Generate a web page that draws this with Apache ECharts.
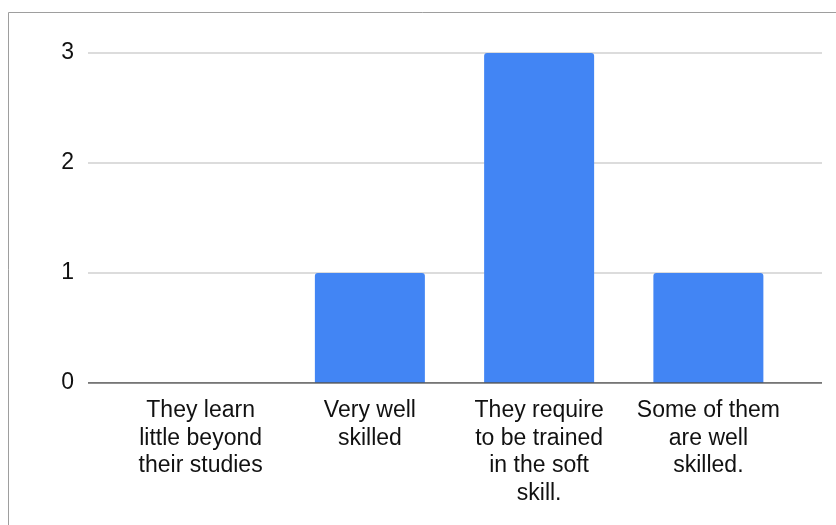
<!DOCTYPE html>
<html>
<head>
<meta charset="utf-8">
<script src="https://cdn.jsdelivr.net/npm/echarts@6/dist/echarts.min.js"></script>
<style>html,body{margin:0;padding:0;background:#fff}#c{width:836px;height:525px}</style>
</head>
<body>
<div id="c"></div>
<script>
var categories = ["They learn little beyond their studies", "Very well skilled", "They require to be trained in the soft skill.", "Some of them are well skilled."];
var tickLabels = ["They learn\nlittle beyond\ntheir studies", "Very well\nskilled", "They require\nto be trained\nin the soft\nskill.", "Some of them\nare well\nskilled."];
var values = [0, 1, 3, 1];
var yTicks = [0, 1, 2, 3];

var chart = echarts.init(document.getElementById('c'), null, {renderer: 'canvas'});
var font = '"Liberation Sans", Arial, sans-serif';
chart.setOption({
  animation: false,
  backgroundColor: '#ffffff',
  graphic: [{
    type: 'rect', shape: {x: 8.5, y: 12.5, width: 900, height: 600},
    style: {fill: 'none', stroke: '#9e9e9e', lineWidth: 1}, z: -1
  }],
  grid: [
    {left: 116, right: 43, top: 53, bottom: 142},
    {left: 88, right: 14, top: 53, bottom: 142}
  ],
  xAxis: [{
    type: 'category', gridIndex: 0, data: categories,
    axisLine: {show: false}, axisTick: {show: false},
    axisLabel: {
      interval: 0, margin: 14, color: '#111', fontSize: 23, fontFamily: font, lineHeight: 27.5,
      formatter: function (v, i) { return tickLabels[i]; }
    }
  }, {
    type: 'value', gridIndex: 1, min: 0, max: 1, show: true,
    axisLine: {show: false}, axisTick: {show: false}, axisLabel: {show: false}, splitLine: {show: false}
  }],
  yAxis: [{
    type: 'value', gridIndex: 0, min: yTicks[0], max: yTicks[yTicks.length - 1], interval: 1,
    axisLine: {show: false}, axisTick: {show: false}, axisLabel: {show: false}, splitLine: {show: false}
  }, {
    type: 'value', gridIndex: 1, min: yTicks[0], max: yTicks[yTicks.length - 1], interval: 1,
    axisLine: {show: false}, axisTick: {show: false},
    axisLabel: {color: '#111', fontSize: 23, fontFamily: font, margin: 14},
    splitLine: {show: true, lineStyle: {color: '#d0d0d0', width: 1.5}}
  }],
  series: [{
    type: 'bar', xAxisIndex: 0, yAxisIndex: 0, data: values, barWidth: 110,
    itemStyle: {color: '#4285f4', borderRadius: [3, 3, 0, 0]}, z: 3
  }, {
    type: 'line', xAxisIndex: 1, yAxisIndex: 1, data: [[0, 0], [1, 0]],
    symbol: 'none', lineStyle: {color: '#555555', width: 1.5}, z: 4, silent: true
  }]
});
</script>
</body>
</html>
